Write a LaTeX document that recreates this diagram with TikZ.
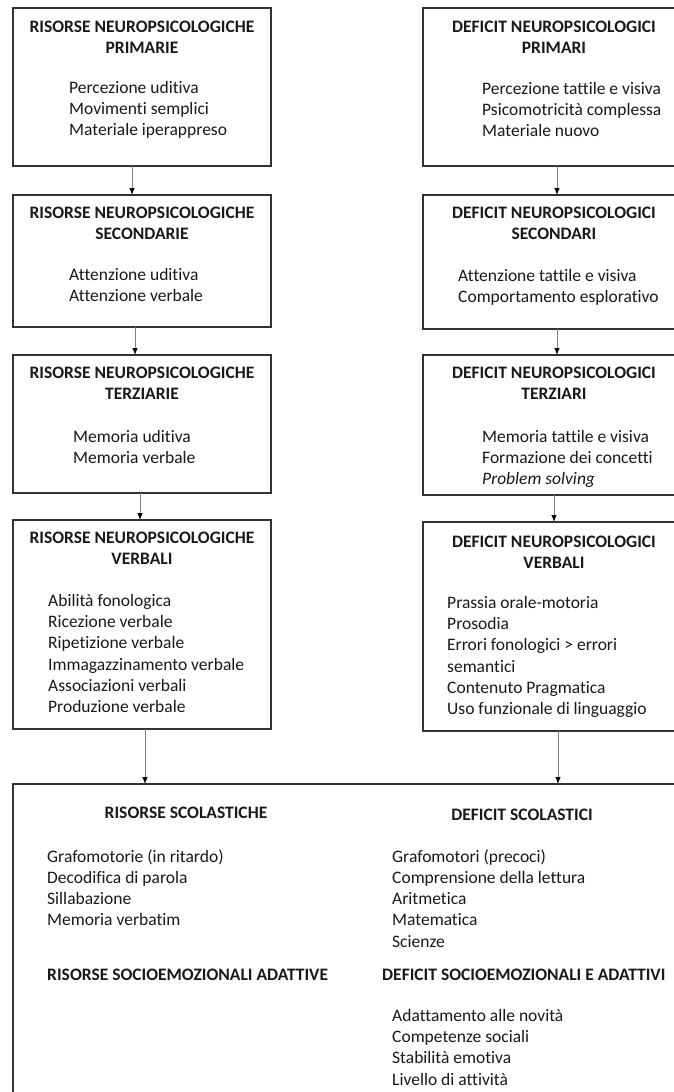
\documentclass[tikz,border=0pt]{standalone}
\usepackage{fontspec}
\setmainfont{Carlito}[Ligatures=NoCommon]
\usetikzlibrary{arrows.meta}
\begin{document}
\begin{tikzpicture}[x=1pt,y=-1pt]
\tikzset{
 box/.style={draw=black!80, line width=1.4pt, inner sep=0pt, outer sep=0pt},
 ttl/.style={font=\bfseries\fontsize{17.5}{20.5}\selectfont, align=center, anchor=north, inner sep=0pt, text=black!90},
 itm/.style={font=\fontsize{17.5}{21.3}\selectfont, align=left, anchor=north west, inner sep=0pt, text=black!90},
 hd/.style={font=\bfseries\fontsize{17.5}{20.5}\selectfont, anchor=north west, inner sep=0pt, text=black!90},
 arr/.style={draw=black!50, line width=0.8pt, -{Latex[length=7pt,width=5.5pt,color=black]}}
}
\useasboundingbox (0,0) rectangle (673,1092);
\fill[white] (0,0) rectangle (673,1092);

% boxes
\node[box, minimum width=258pt, minimum height=158pt] (lb1) at (142,87) {};
\node[box, minimum width=258pt, minimum height=132pt] (lb2) at (142,261) {};
\node[box, minimum width=258pt, minimum height=138pt] (lb3) at (142,424) {};
\node[box, minimum width=258pt, minimum height=209pt] (lb4) at (142,624.5) {};
\node[box, minimum width=267pt, minimum height=158pt] (rb1) at (556.5,87) {};
\node[box, minimum width=267pt, minimum height=134pt] (rb2) at (556.5,262) {};
\node[box, minimum width=267pt, minimum height=140pt] (rb3) at (556.5,425) {};
\node[box, minimum width=267pt, minimum height=209pt] (rb4) at (556.5,626.5) {};
\node[box, minimum width=677pt, minimum height=326pt] (big) at (351.5,947) {};

% texts left column
\node[ttl] (lt1) at (142,21) {RISORSE NEUROPSICOLOGICHE\\PRIMARIE};
\node[itm] (li1) at (69,81) {Percezione uditiva\\Movimenti semplici\\Materiale iperappreso};
\node[ttl] (lt2) at (142,207) {RISORSE NEUROPSICOLOGICHE\\SECONDARIE};
\node[itm] (li2) at (69,268) {Attenzione uditiva\\Attenzione verbale};
\node[ttl] (lt3) at (142,367) {RISORSE NEUROPSICOLOGICHE\\TERZIARIE};
\node[itm] (li3) at (73,430) {Memoria uditiva\\Memoria verbale};
\node[ttl] (lt4) at (142,532) {RISORSE NEUROPSICOLOGICHE\\VERBALI};
\node[itm] (li4) at (48,594) {Abilità fonologica\\Ricezione verbale\\Ripetizione verbale\\Immagazzinamento verbale\\Associazioni verbali\\Produzione verbale};

% texts right column
\node[ttl] (rt1) at (554,21) {DEFICIT NEUROPSICOLOGICI\\PRIMARI};
\node[itm] (ri1) at (482,82) {Percezione tattile e visiva\\Psicomotricità complessa\\Materiale nuovo};
\node[ttl] (rt2) at (554,207) {DEFICIT NEUROPSICOLOGICI\\SECONDARI};
\node[itm] (ri2) at (458,269) {Attenzione tattile e visiva\\Comportamento esplorativo};
\node[ttl] (rt3) at (554,367) {DEFICIT NEUROPSICOLOGICI\\TERZIARI};
\node[itm] (ri3) at (482,430) {Memoria tattile e visiva\\Formazione dei concetti\\\textit{Problem solving}};
\node[ttl] (rt4) at (554,536) {DEFICIT NEUROPSICOLOGICI\\VERBALI};
\node[itm] (ri4) at (447,596) {Prassia orale-motoria\\Prosodia\\Errori fonologici > errori\\semantici\\Contenuto Pragmatica\\Uso funzionale di linguaggio};

% bottom box texts
\node[ttl] (bt1) at (186,807) {RISORSE SCOLASTICHE};
\node[itm] (bi1) at (47,849) {Grafomotorie (in ritardo)\\Decodifica di parola\\Sillabazione\\Memoria verbatim};
\node[hd] (bt2) at (47,969) {RISORSE SOCIOEMOZIONALI ADATTIVE};
\node[ttl] (bt3) at (522,809) {DEFICIT SCOLASTICI};
\node[itm] (bi3) at (392,849) {Grafomotori (precoci)\\Comprensione della lettura\\Aritmetica\\Matematica\\Scienze};
\node[hd] (bt4) at (382,969) {DEFICIT SOCIOEMOZIONALI E ADATTIVI};
\node[itm] (bi4) at (392,1009) {Adattamento alle novità\\Competenze sociali\\Stabilità emotiva\\Livello di attività};

% arrow columns
\coordinate (a1) at (132,0);
\coordinate (a2) at (135,0);
\coordinate (a3) at (140,0);
\coordinate (a4) at (145,0);
\coordinate (b1) at (557,0);
\coordinate (b2) at (557,0);
\coordinate (b3) at (554,0);
\coordinate (b4) at (558,0);

\draw[arr] (lb1.south -| a1) -- (lb2.north -| a1);
\draw[arr] (lb2.south -| a2) -- (lb3.north -| a2);
\draw[arr] (lb3.south -| a3) -- (lb4.north -| a3);
\draw[arr] (lb4.south -| a4) -- (big.north -| a4);
\draw[arr] (rb1.south -| b1) -- (rb2.north -| b1);
\draw[arr] (rb2.south -| b2) -- (rb3.north -| b2);
\draw[arr] (rb3.south -| b3) -- (rb4.north -| b3);
\draw[arr] (rb4.south -| b4) -- (big.north -| b4);
\end{tikzpicture}
\end{document}
